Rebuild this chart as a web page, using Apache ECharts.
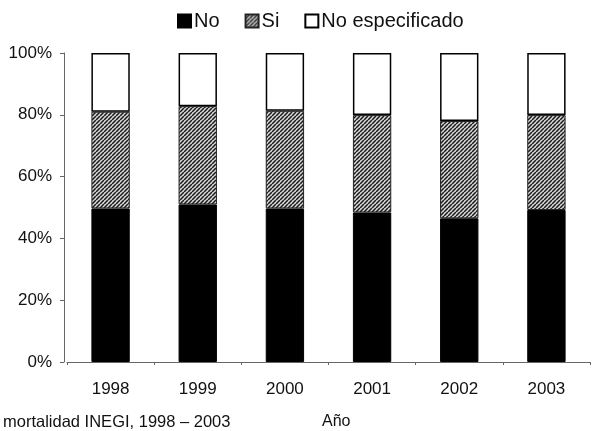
<!DOCTYPE html>
<html>
<head>
<meta charset="utf-8">
<script src="https://cdn.jsdelivr.net/npm/echarts@6/dist/echarts.min.js"></script>
<style>html,body{margin:0;padding:0;background:#fff;}#c{width:596px;height:431px;}</style>
</head>
<body>
<div id="c"></div>
<script>
var years = ['1998', '1999', '2000', '2001', '2002', '2003'];
var seriesNames = ['No', 'Si', 'No especificado'];
var noValues = [49.7, 51.0, 49.7, 48.4, 46.5, 49.2];
var siValues = [31.3, 31.8, 31.6, 31.5, 31.5, 30.7];
var noEspValues = [19.0, 17.2, 18.7, 20.1, 22.0, 20.1];
var yTicks = [0, 20, 40, 60, 80, 100];
var xTitle = 'Año';
var footnote = 'mortalidad INEGI, 1998 – 2003';

function makeHatch() {
  var c = document.createElement('canvas');
  c.width = 4; c.height = 4;
  var g = c.getContext('2d');
  g.fillStyle = '#d8d8d8';
  g.fillRect(0, 0, 4, 4);
  g.strokeStyle = '#1a1a1a';
  g.lineWidth = 1.5;
  for (var k = -1; k <= 1; k++) {
    g.beginPath();
    g.moveTo(k * 4, 4);
    g.lineTo(k * 4 + 4, 0);
    g.stroke();
  }
  return c;
}

var chart = echarts.init(document.getElementById('c'), null, {renderer: 'canvas'});
var font = 'Liberation Sans, Arial, sans-serif';
chart.setOption({
  animation: false,
  backgroundColor: '#fff',
  textStyle: {fontFamily: font},
  legend: {
    left: 172, top: 6,
    itemWidth: 13, itemHeight: 13, itemGap: 25,
    icon: 'rect',
    textStyle: {fontSize: 20, color: '#111', fontFamily: font, padding: [0, 0, 0, -2]},
    data: seriesNames
  },
  grid: {left: 67, right: 6, top: 53, bottom: 69},
  xAxis: {
    type: 'category',
    data: years,
    axisLine: {lineStyle: {color: '#666', width: 1}},
    axisTick: {show: true, length: 3, lineStyle: {color: '#666'}},
    axisLabel: {fontSize: 17, color: '#111', margin: 19, fontFamily: font}
  },
  yAxis: {
    type: 'value',
    min: yTicks[0], max: yTicks[yTicks.length - 1], interval: 20,
    offset: 3,
    axisLine: {show: true, lineStyle: {color: '#666', width: 1}},
    axisTick: {show: true, length: 4, lineStyle: {color: '#666'}},
    splitLine: {show: false},
    axisLabel: {fontSize: 17, color: '#111', margin: 12, formatter: '{value}%', fontFamily: font}
  },
  graphic: [{
    type: 'text', left: 3, top: 414,
    style: {text: footnote, fontSize: 16.5, fill: '#111', fontFamily: font}
  }, {
    type: 'text', left: 322, top: 414,
    style: {text: xTitle, fontSize: 16, fill: '#111', fontFamily: font}
  }],
  series: [
    {name: seriesNames[0], type: 'bar', stack: 't', barWidth: '44%', data: noValues,
     itemStyle: {color: '#000', borderColor: '#000', borderWidth: 1}},
    {name: seriesNames[1], type: 'bar', stack: 't', barWidth: '44%', data: siValues,
     itemStyle: {color: {image: makeHatch(), repeat: 'repeat'}, borderColor: '#222', borderWidth: 1}},
    {name: seriesNames[2], type: 'bar', stack: 't', barWidth: '44%', data: noEspValues,
     itemStyle: {color: '#fff', borderColor: '#000', borderWidth: 1.5}}
  ]
});
</script>
</body>
</html>
